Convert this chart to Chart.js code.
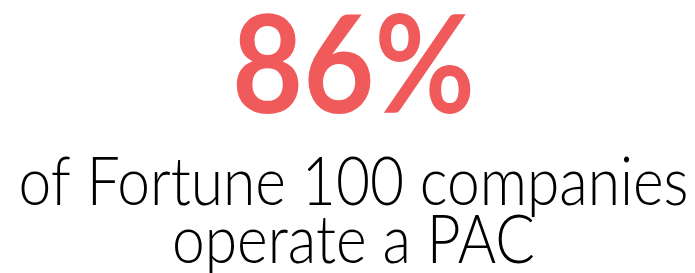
<!DOCTYPE html>
<html>
<head>
<meta charset="utf-8">
<script src="https://cdn.jsdelivr.net/npm/chart.js@4.4.1/dist/chart.umd.min.js"></script>
<style>
  html, body { margin: 0; padding: 0; background: #fff; }
  #wrap { width: 695px; height: 273px; }
</style>
</head>
<body>
<div id="wrap"><canvas id="statChart"></canvas></div>
<script>
// stat values
const statLabels = ['Operate a PAC'];
const statValues = [86];
const captionLines = ['of Fortune 100 companies', 'operate a PAC'];

// draws the big figure and caption as text on the chart canvas
const bigStat = {
    id: 'bigStat',
    afterDraw(chart) {
        const ctx = chart.ctx;
        const cx = chart.width / 2 + 6;

        function fitText(text, font, width, baseline, color) {
            ctx.save();
            ctx.font = font;
            ctx.fillStyle = color;
            ctx.textBaseline = 'alphabetic';
            const w = ctx.measureText(text).width;
            ctx.translate(cx, baseline);
            ctx.scale(width / w, 1);
            ctx.textAlign = 'center';
            ctx.fillText(text, 0, 0);
            ctx.restore();
        }

        fitText(statValues[0] + '%', 'bold 136px Lato', 243, 113, '#f05a5a');
        fitText(captionLines[0], '300 67px Lato', 670, 205, '#000');
        fitText(captionLines[1], '300 67px Lato', 363, 263, '#000');
    }
};

new Chart(document.getElementById('statChart'), {
    type: 'bar',
    data: {
        labels: statLabels,
        datasets: [{
            data: statValues,
            backgroundColor: 'rgba(0,0,0,0)',
            borderWidth: 0
        }]
    },
    options: {
        responsive: true,
        maintainAspectRatio: false,
        animation: false,
        events: [],
        plugins: {
            legend: { display: false },
            tooltip: { enabled: false }
        },
        scales: {
            x: { display: false },
            y: { display: false, min: 0, max: 100 }
        }
    },
    plugins: [bigStat]
});
</script>
</body>
</html>
